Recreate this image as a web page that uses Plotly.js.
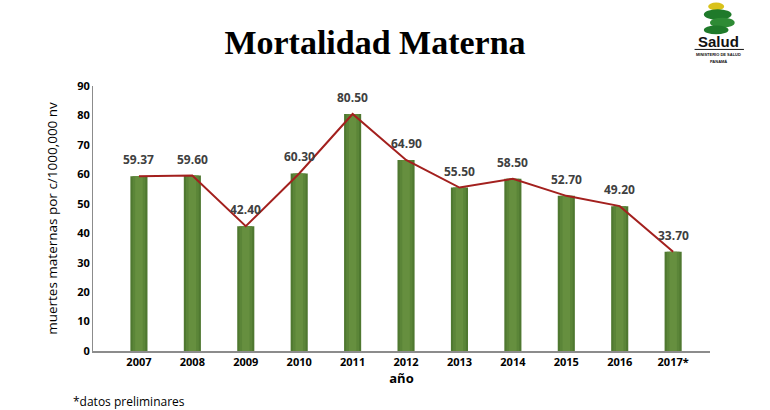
<!DOCTYPE html>
<html>
<head>
<meta charset="utf-8">
<script src="https://cdn.plot.ly/plotly-3.0.1.min.js"></script>
<style>
  html, body { margin: 0; padding: 0; background: #ffffff; }
  #chart { width: 770px; height: 410px; }
</style>
</head>
<body>
<div id="chart"></div>
<script>
const years = ["2007", "2008", "2009", "2010", "2011", "2012", "2013", "2014", "2015", "2016", "2017*"];
const rates = [59.37, 59.6, 42.4, 60.3, 80.5, 64.9, 55.5, 58.5, 52.7, 49.2, 33.7];
const rateLabels = ["59.37", "59.60", "42.40", "60.30", "80.50", "64.90", "55.50", "58.50", "52.70", "49.20", "33.70"];

// bars in a few layers so the edges come out darker than the middle
const barLayers = [
  { width: 0.32, color: "#4f7830" },
  { width: 0.24, color: "#5b8538" },
  { width: 0.14, color: "#668f3f" },
];

const traces = barLayers.map((layer) => ({
  type: "bar",
  x: years,
  y: rates,
  width: layer.width,
  marker: { color: layer.color, line: { width: 0 } },
  hoverinfo: "skip",
  showlegend: false,
}));

traces.push({
  type: "scatter",
  mode: "lines",
  x: years,
  y: rates,
  line: { color: "#a3201e", width: 2 },
  showlegend: false,
});

// value labels sit a little above each point (x as category index)
const valueNotes = years.map((year, i) => ({
  x: i,
  y: rates[i],
  text: "<b>" + rateLabels[i] + "</b>",
  xref: "x",
  yref: "y",
  yanchor: "bottom",
  yshift: 6,
  showarrow: false,
  font: { family: "Open Sans, Arial", size: 12, color: "#404040" },
}));

const layout = {
  width: 770,
  height: 410,
  paper_bgcolor: "#ffffff",
  plot_bgcolor: "#ffffff",
  margin: { t: 86, l: 93, r: 60, b: 59 },
  barmode: "overlay",
  showlegend: false,
  font: { family: "Open Sans, Arial", color: "#000000" },
  title: {
    text: "<b>Mortalidad Materna</b>",
    font: { family: "Liberation Serif, Times New Roman", size: 34, color: "#000000" },
    x: 0.487,
    xanchor: "center",
    y: 0.897,
    yanchor: "middle",
  },
  xaxis: {
    type: "category",
    range: [-0.86, 10.69],
    showline: true,
    linecolor: "#8c8c8c",
    linewidth: 1.5,
    showgrid: false,
    zeroline: false,
    ticks: "",
    tickfont: { family: "Open Sans, Arial", size: 11, color: "#000000", weight: "bold" },
    title: {
      text: "<b>año</b>",
      font: { family: "Open Sans, Arial", size: 13, color: "#000000" },
      standoff: 6,
    },
  },
  yaxis: {
    range: [0, 90],
    dtick: 10,
    showline: true,
    linecolor: "#8c8c8c",
    linewidth: 1,
    showgrid: false,
    zeroline: false,
    ticks: "",
    tickfont: { family: "Open Sans, Arial", size: 11, color: "#000000", weight: "bold" },
    title: {
      text: "muertes maternas por c/1000,000 nv",
      font: { family: "Open Sans, Arial", size: 13.5, color: "#000000" },
      standoff: 16,
    },
  },
  annotations: valueNotes.concat([
    {
      text: "*datos preliminares",
      xref: "paper", yref: "paper",
      x: -0.036, y: -0.152,
      xanchor: "left", yanchor: "top",
      showarrow: false,
      font: { family: "Open Sans, Arial", size: 12, color: "#000000" },
    },
    {
      text: "<b>Salud</b>",
      xref: "paper", yref: "paper",
      x: 1.013, y: 1.168,
      xanchor: "center", yanchor: "middle",
      showarrow: false,
      font: { family: "Liberation Sans, Arial", size: 15, color: "#111111" },
    },
    {
      text: "<b>MINISTERIO DE SALUD</b>",
      xref: "paper", yref: "paper",
      x: 1.013, y: 1.118,
      xanchor: "center", yanchor: "middle",
      showarrow: false,
      font: { family: "Liberation Sans, Arial", size: 4, color: "#111111" },
    },
    {
      text: "<b>PANAMÁ</b>",
      xref: "paper", yref: "paper",
      x: 1.013, y: 1.092,
      xanchor: "center", yanchor: "middle",
      showarrow: false,
      font: { family: "Liberation Sans, Arial", size: 4, color: "#111111" },
    },
  ]),
  shapes: [
    // small snake-like logo above "Salud"
    { type: "circle", xref: "paper", yref: "paper", x0: 0.997, x1: 1.023, y0: 1.285, y1: 1.315, fillcolor: "#d9c21a", line: { width: 0 } },
    { type: "circle", xref: "paper", yref: "paper", x0: 0.99, x1: 1.035, y0: 1.25, y1: 1.29, fillcolor: "#1f7a2a", line: { width: 0 } },
    { type: "circle", xref: "paper", yref: "paper", x0: 1.0, x1: 1.04, y0: 1.22, y1: 1.258, fillcolor: "#2e8b35", line: { width: 0 } },
    { type: "circle", xref: "paper", yref: "paper", x0: 0.99, x1: 1.03, y0: 1.195, y1: 1.228, fillcolor: "#1f7a2a", line: { width: 0 } },
    { type: "line", xref: "paper", yref: "paper", x0: 0.975, x1: 1.055, y0: 1.138, y1: 1.138, line: { color: "#111111", width: 1 } },
  ],
};

Plotly.newPlot("chart", traces, layout, { displayModeBar: false, staticPlot: true });
</script>
</body>
</html>
